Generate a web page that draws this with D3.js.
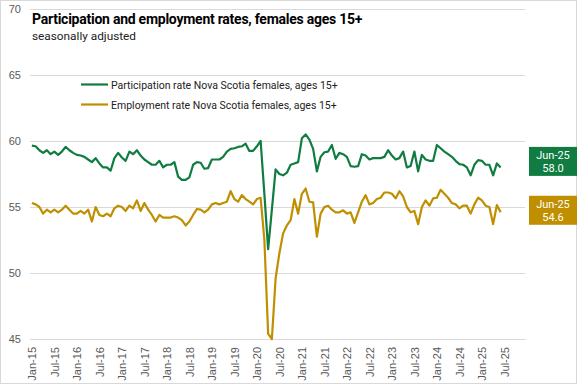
<!DOCTYPE html>
<html>
<head>
<meta charset="utf-8">
<script src="https://cdn.jsdelivr.net/npm/d3@7"></script>
<style>
  body { margin: 0; background: #fff; }
  svg { display: block; }
  .tick text { font-family: "Liberation Sans", Arial, sans-serif; font-size: 11px; fill: #595959; }
</style>
</head>
<body>
<svg id="chart" width="577" height="384"></svg>
<script>
// categories on the axis: Jan-15 .. Dec-25 (data stops at Jun-25)
var months = d3.timeMonth.range(new Date(2015, 0, 1), new Date(2026, 0, 1)).map(d3.timeFormat("%b-%y"));

var tickLabels = ["Jan-15","Jul-15","Jan-16","Jul-16","Jan-17","Jul-17","Jan-18","Jul-18","Jan-19","Jul-19",
  "Jan-20","Jul-20","Jan-21","Jul-21","Jan-22","Jul-22","Jan-23","Jul-23","Jan-24","Jul-24","Jan-25","Jul-25"];

var yTicks = [45, 50, 55, 60, 65, 70];

// participation rate, Nova Scotia females 15+ (Jan-15 .. Jun-25)
var participation = [
  59.65, 59.6, 59.3, 59.1, 59.3, 59.0, 59.2, 58.95, 59.2, 59.55, 59.3, 59.1,
  58.95, 58.9, 58.8, 58.6, 58.4, 58.7, 58.3, 58.0, 58.0, 57.75, 58.7, 59.1,
  58.75, 58.5, 59.2, 59.0, 59.3, 58.9, 58.6, 58.4, 58.2, 58.2, 58.5, 58.0,
  58.2, 58.2, 58.4, 57.3, 57.05, 57.05, 57.25, 58.2, 58.4, 58.35, 57.9, 57.95,
  58.6, 58.6, 58.6, 58.8, 59.2, 59.4, 59.45, 59.55, 59.6, 59.8, 59.25, 59.25,
  59.6, 60.0, 56.0, 51.8, 54.8, 57.85, 57.5, 57.4, 57.6, 58.2, 58.3, 58.4,
  60.2, 60.5, 60.1, 59.4, 57.7, 58.8, 59.15, 59.2, 59.7, 58.65, 59.1, 59.0,
  58.8, 58.1, 58.05, 58.1, 59.0, 58.9, 58.6, 58.7, 58.7, 58.7, 58.8, 59.3,
  58.9, 58.6, 58.7, 59.2, 58.0, 58.1, 59.2, 57.7, 58.95, 58.6, 58.5, 58.5,
  59.7, 59.45, 59.2, 59.0, 58.8, 58.5, 58.25, 58.2, 58.0, 57.4, 58.2, 58.55,
  58.5, 58.2, 58.2, 57.4, 58.3, 58.0
];

// employment rate, Nova Scotia females 15+ (Jan-15 .. Jun-25)
var employment = [
  55.3, 55.2, 55.0, 54.5, 54.8, 54.6, 54.8, 54.6, 54.8, 55.1, 54.8, 54.5,
  54.5, 54.7, 54.5, 54.8, 53.9, 55.0, 54.4, 54.3, 54.5, 54.3, 54.9, 55.1,
  55.0, 54.7, 55.1, 54.9, 55.5, 54.7, 55.3, 54.8, 54.4, 53.9, 54.4, 54.2,
  54.2, 54.2, 54.3, 54.2, 54.0, 53.6, 53.9, 54.4, 54.85, 54.8, 54.6, 54.8,
  55.2, 55.3, 55.2, 55.3, 55.4, 56.2, 55.6, 55.4, 55.9, 55.6, 55.4, 55.2,
  55.6, 55.7, 52.5, 45.4, 45.0, 49.6, 51.5, 53.0, 53.6, 54.0, 55.6, 54.5,
  56.0, 56.4, 55.4, 55.35, 52.75, 54.5, 55.0, 55.1, 54.8, 54.6, 54.6, 54.75,
  54.5, 54.6, 53.8, 54.6, 55.4, 55.9, 55.2, 55.3, 55.6, 55.7, 56.1, 56.1,
  56.0, 55.65, 56.2, 55.8, 55.0, 54.6, 54.7, 53.7, 55.0, 55.5, 55.1, 55.65,
  55.7, 56.3, 56.0, 55.7, 55.3, 55.2, 54.9, 55.1, 55.1, 54.5, 55.2, 55.7,
  55.5, 55.1, 55.0, 53.7, 55.15, 54.6
];

var seriesNames = ["Participation rate Nova Scotia females, ages 15+", "Employment rate Nova Scotia females, ages 15+"];
var seriesColors = ["#107c41", "#bf8f00"];
var lastLabel = "Jun-25";

var svg = d3.select("#chart");

// outer border
svg.append("rect")
    .attr("x", 0.5).attr("y", 0.5)
    .attr("width", 576).attr("height", 383)
    .attr("fill", "#fff")
    .attr("stroke", "#d9d9d9");

var plotLeft = 30, plotRight = 525, plotTop = 9, plotBottom = 339;

var x = d3.scalePoint()
    .domain(months)
    .range([plotLeft, plotRight])
    .padding(0.5);

var y = d3.scaleLinear()
    .domain([45, 70])
    .range([plotBottom, plotTop]);

// gridlines
svg.append("g")
    .attr("transform", "translate(" + plotLeft + ",0)")
    .call(d3.axisLeft(y).tickValues(yTicks).tickSize(-(plotRight - plotLeft)).tickFormat(""))
    .call(function(g) { g.select(".domain").remove(); })
    .selectAll("line").attr("stroke", "#d9d9d9");

// y labels
svg.append("g")
    .attr("transform", "translate(" + plotLeft + ",0)")
    .call(d3.axisLeft(y).tickValues(yTicks).tickSize(0).tickPadding(9))
    .call(function(g) { g.select(".domain").remove(); });

// x axis
svg.append("g")
    .attr("transform", "translate(0," + plotBottom + ")")
    .call(d3.axisBottom(x).tickValues(tickLabels).tickSize(0))
    .call(function(g) { g.select(".domain").attr("stroke", "#d9d9d9"); })
  .selectAll("text")
    .attr("transform", "rotate(-90)")
    .attr("x", -8)
    .attr("y", 0)
    .attr("dy", "0.35em")
    .style("text-anchor", "end");

// lines
var line = d3.line()
    .x(function(d, i) { return x(months[i]); })
    .y(function(d) { return y(d); });

[participation, employment].forEach(function(s, k) {
  svg.append("path")
      .datum(s)
      .attr("fill", "none")
      .attr("stroke", seriesColors[k])
      .attr("stroke-width", 2.2)
      .attr("stroke-linejoin", "round")
      .attr("d", line);
});

// title
svg.append("text")
    .attr("x", 32).attr("y", 24)
    .style("font-family", "Roboto, sans-serif")
    .style("font-weight", "bold")
    .style("font-size", "14px")
    .style("letter-spacing", "-0.25px")
    .attr("fill", "#000")
    .text("Participation and employment rates, females ages 15+");

svg.append("text")
    .attr("x", 32).attr("y", 40)
    .style("font-family", "Roboto, sans-serif")
    .style("font-size", "11.8px")
    .attr("fill", "#222")
    .text("seasonally adjusted");

// legend
var legend = svg.append("g").attr("transform", "translate(81,84.5)");
seriesNames.forEach(function(n, k) {
  var g = legend.append("g").attr("transform", "translate(0," + (k * 20) + ")");
  g.append("line").attr("x1", 0).attr("x2", 27).attr("stroke", seriesColors[k]).attr("stroke-width", 2.2);
  g.append("text")
      .attr("x", 30).attr("y", 4)
      .style("font-family", "Roboto, sans-serif")
      .style("font-size", "10.5px")
      .attr("fill", "#222")
      .text(n);
});

// end value boxes
[participation, employment].forEach(function(s, k) {
  var v = s[s.length - 1];
  var cy = y(v) - (k === 0 ? 6 : 2);
  var g = svg.append("g").attr("transform", "translate(529," + (cy - 14.5) + ")");
  g.append("rect").attr("width", 48).attr("height", 29).attr("fill", seriesColors[k]);
  g.append("text").attr("x", 24).attr("y", 12)
      .attr("text-anchor", "middle").attr("fill", "#fff")
      .style("font-family", "Roboto, sans-serif").style("font-size", "11px")
      .text(lastLabel);
  g.append("text").attr("x", 24).attr("y", 25)
      .attr("text-anchor", "middle").attr("fill", "#fff")
      .style("font-family", "Roboto, sans-serif").style("font-size", "11px")
      .text(d3.format(".1f")(v));
});
</script>
</body>
</html>
